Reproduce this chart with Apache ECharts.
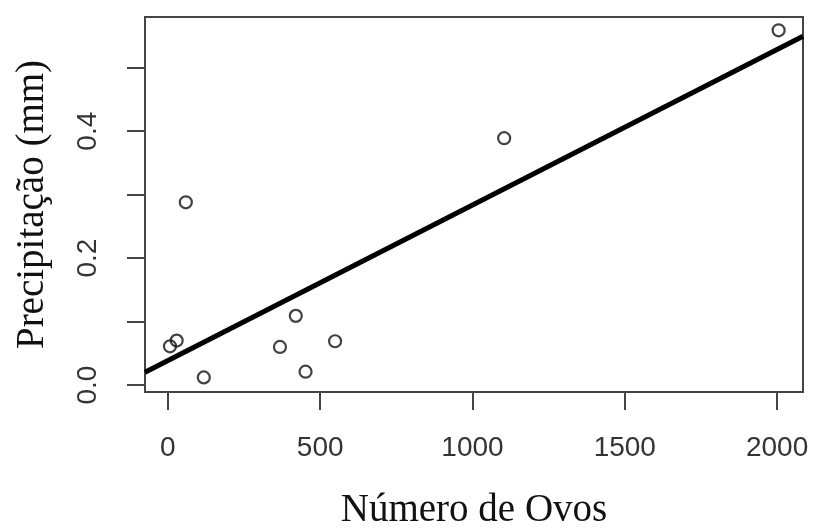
<!DOCTYPE html>
<html>
<head>
<meta charset="utf-8">
<script src="https://cdn.jsdelivr.net/npm/echarts@6/dist/echarts.min.js"></script>
<style>
  html, body { margin: 0; padding: 0; background: #fff; }
  #chart { width: 813px; height: 529px; }
</style>
</head>
<body>
<div id="chart"></div>
<script>
// pontos
var ovos = [7, 29, 59, 118, 368, 420, 452, 549, 1104, 2005]
var precipitacao = [0.061, 0.070, 0.288, 0.012, 0.060, 0.109, 0.021, 0.069, 0.389, 0.559]

var xTicks = [0, 500, 1000, 1500, 2000]
var yTicks = [0, 0.1, 0.2, 0.3, 0.4, 0.5]
var yLabels = [0, 0.2, 0.4]

var xMin = -75, xMax = 2085
var yMin = -0.011, yMax = 0.58

// reta de regressão (lm) ajustada aos pontos
function ajuste(xs, ys) {
  var n = xs.length, mx = 0, my = 0
  for (var i = 0; i < n; i++) { mx += xs[i]; my += ys[i] }
  mx /= n; my /= n
  var sxy = 0, sxx = 0
  for (var j = 0; j < n; j++) {
    sxy += (xs[j] - mx) * (ys[j] - my)
    sxx += (xs[j] - mx) * (xs[j] - mx)
  }
  var b = sxy / sxx
  return { a: my - b * mx, b: b }
}
var fit = ajuste(ovos, precipitacao)

var pontos = ovos.map(function (x, i) { return [x, precipitacao[i]] })
var reta = [xMin, xMax].map(function (x) { return [x, fit.a + fit.b * x] })

var chart = echarts.init(document.getElementById('chart'), null, { renderer: 'canvas' })
var option = {
  backgroundColor: '#fff',
  animation: false,
  grid: {
    left: 145,
    top: 17,
    right: 10,
    bottom: 137,
    outerBoundsMode: 'none',
    containLabel: false,
    show: true,
    borderColor: '#444',
    borderWidth: 2,
    backgroundColor: 'transparent'
  },
  xAxis: {
    type: 'value',
    min: xMin,
    max: xMax,
    name: 'Número de Ovos',
    nameLocation: 'middle',
    nameGap: 99,
    nameTextStyle: { fontFamily: 'Liberation Serif', fontSize: 39, color: '#111' },
    axisLine: { show: false, onZero: false },
    splitLine: { show: false },
    axisTick: { show: true, length: 18, customValues: xTicks, lineStyle: { color: '#444', width: 2 } },
    axisLabel: {
      customValues: xTicks,
      margin: 42,
      fontFamily: 'Liberation Sans',
      fontSize: 28,
      color: '#333',
      formatter: function (v) { return String(v) }
    }
  },
  yAxis: {
    type: 'value',
    min: yMin,
    max: yMax,
    name: 'Precipitação (mm)',
    nameLocation: 'middle',
    nameGap: 93,
    nameRotate: 90,
    nameTextStyle: { fontFamily: 'Liberation Serif', fontSize: 39, color: '#111' },
    axisLine: { show: false, onZero: false },
    splitLine: { show: false },
    axisTick: { show: true, length: 18, customValues: yTicks, lineStyle: { color: '#444', width: 2 } },
    axisLabel: {
      customValues: yLabels,
      rotate: 90,
      margin: 43,
      fontFamily: 'Liberation Sans',
      fontSize: 28,
      color: '#333',
      formatter: function (v) { return v.toFixed(1) }
    }
  },
  series: [
    {
      type: 'scatter',
      data: pontos,
      symbol: 'circle',
      symbolSize: 12,
      itemStyle: { color: 'rgba(0,0,0,0)', borderColor: '#111', borderWidth: 2.2 },
      z: 3
    },
    {
      type: 'line',
      data: reta,
      showSymbol: false,
      clip: true,
      lineStyle: { color: '#000', width: 5 },
      z: 2
    }
  ]
}
chart.setOption(option)
</script>
</body>
</html>
